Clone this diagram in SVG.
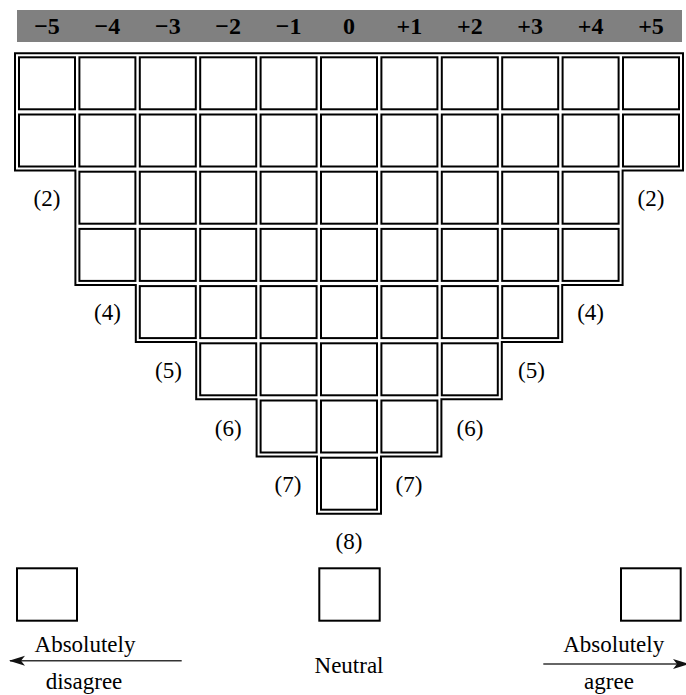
<svg xmlns="http://www.w3.org/2000/svg" width="686" height="695" viewBox="0 0 686 695">
<style>
.cell{fill:#fff;stroke:#000;stroke-width:2}
.frame{fill:none;stroke:#000;stroke-width:2}
.hd{font-family:'Liberation Serif','Times New Roman','DejaVu Serif',serif;font-weight:bold;font-size:24px;fill:#000;text-anchor:middle}
.lb{font-family:'Liberation Serif','Times New Roman','DejaVu Serif',serif;font-size:23px;fill:#000;text-anchor:middle}
.box{fill:#fff;stroke:#000;stroke-width:2}
.arr{fill:none;stroke:#333;stroke-width:1.5}
</style>
<defs>
<marker id="ah" viewBox="0 0 16 12" refX="15" refY="6" markerWidth="16" markerHeight="12" markerUnits="userSpaceOnUse" orient="auto-start-reverse">
<path d="M0,1 L16,6 L0,11 L4,6 Z" fill="#111"/>
</marker>
</defs>
<rect x="0" y="0" width="686" height="695" fill="#fff"/>
<g id="header" font-family="Liberation Serif, serif">
<rect x="17" y="10" width="665" height="32" fill="#808080"/>
<text class="hd" x="47" y="34">−5</text>
<text class="hd" x="107.4" y="34">−4</text>
<text class="hd" x="167.8" y="34">−3</text>
<text class="hd" x="228.2" y="34">−2</text>
<text class="hd" x="288.6" y="34">−1</text>
<text class="hd" x="349" y="34">0</text>
<text class="hd" x="409.4" y="34">+1</text>
<text class="hd" x="469.8" y="34">+2</text>
<text class="hd" x="530.2" y="34">+3</text>
<text class="hd" x="590.6" y="34">+4</text>
<text class="hd" x="651" y="34">+5</text>
</g>
<g id="frame"><path class="frame" d="M15,53.3 H683 V170.5 H622.6 V284.9 H562.2 V342.1 H501.8 V399.3 H441.4 V456.5 H381 V513.7 H317 V456.5 H256.6 V399.3 H196.2 V342.1 H135.8 V284.9 H75.4 V170.5 H15 Z"/></g>
<g id="grid">
<g id="r0c0"><rect class="cell" x="19" y="57.3" width="56" height="52"/></g>
<g id="r0c1"><rect class="cell" x="79.4" y="57.3" width="56" height="52"/></g>
<g id="r0c2"><rect class="cell" x="139.8" y="57.3" width="56" height="52"/></g>
<g id="r0c3"><rect class="cell" x="200.2" y="57.3" width="56" height="52"/></g>
<g id="r0c4"><rect class="cell" x="260.6" y="57.3" width="56" height="52"/></g>
<g id="r0c5"><rect class="cell" x="321" y="57.3" width="56" height="52"/></g>
<g id="r0c6"><rect class="cell" x="381.4" y="57.3" width="56" height="52"/></g>
<g id="r0c7"><rect class="cell" x="441.8" y="57.3" width="56" height="52"/></g>
<g id="r0c8"><rect class="cell" x="502.2" y="57.3" width="56" height="52"/></g>
<g id="r0c9"><rect class="cell" x="562.6" y="57.3" width="56" height="52"/></g>
<g id="r0c10"><rect class="cell" x="623" y="57.3" width="56" height="52"/></g>
<g id="r1c0"><rect class="cell" x="19" y="114.5" width="56" height="52"/></g>
<g id="r1c1"><rect class="cell" x="79.4" y="114.5" width="56" height="52"/></g>
<g id="r1c2"><rect class="cell" x="139.8" y="114.5" width="56" height="52"/></g>
<g id="r1c3"><rect class="cell" x="200.2" y="114.5" width="56" height="52"/></g>
<g id="r1c4"><rect class="cell" x="260.6" y="114.5" width="56" height="52"/></g>
<g id="r1c5"><rect class="cell" x="321" y="114.5" width="56" height="52"/></g>
<g id="r1c6"><rect class="cell" x="381.4" y="114.5" width="56" height="52"/></g>
<g id="r1c7"><rect class="cell" x="441.8" y="114.5" width="56" height="52"/></g>
<g id="r1c8"><rect class="cell" x="502.2" y="114.5" width="56" height="52"/></g>
<g id="r1c9"><rect class="cell" x="562.6" y="114.5" width="56" height="52"/></g>
<g id="r1c10"><rect class="cell" x="623" y="114.5" width="56" height="52"/></g>
<g id="r2c1"><rect class="cell" x="79.4" y="171.7" width="56" height="52"/></g>
<g id="r2c2"><rect class="cell" x="139.8" y="171.7" width="56" height="52"/></g>
<g id="r2c3"><rect class="cell" x="200.2" y="171.7" width="56" height="52"/></g>
<g id="r2c4"><rect class="cell" x="260.6" y="171.7" width="56" height="52"/></g>
<g id="r2c5"><rect class="cell" x="321" y="171.7" width="56" height="52"/></g>
<g id="r2c6"><rect class="cell" x="381.4" y="171.7" width="56" height="52"/></g>
<g id="r2c7"><rect class="cell" x="441.8" y="171.7" width="56" height="52"/></g>
<g id="r2c8"><rect class="cell" x="502.2" y="171.7" width="56" height="52"/></g>
<g id="r2c9"><rect class="cell" x="562.6" y="171.7" width="56" height="52"/></g>
<g id="r3c1"><rect class="cell" x="79.4" y="228.9" width="56" height="52"/></g>
<g id="r3c2"><rect class="cell" x="139.8" y="228.9" width="56" height="52"/></g>
<g id="r3c3"><rect class="cell" x="200.2" y="228.9" width="56" height="52"/></g>
<g id="r3c4"><rect class="cell" x="260.6" y="228.9" width="56" height="52"/></g>
<g id="r3c5"><rect class="cell" x="321" y="228.9" width="56" height="52"/></g>
<g id="r3c6"><rect class="cell" x="381.4" y="228.9" width="56" height="52"/></g>
<g id="r3c7"><rect class="cell" x="441.8" y="228.9" width="56" height="52"/></g>
<g id="r3c8"><rect class="cell" x="502.2" y="228.9" width="56" height="52"/></g>
<g id="r3c9"><rect class="cell" x="562.6" y="228.9" width="56" height="52"/></g>
<g id="r4c2"><rect class="cell" x="139.8" y="286.1" width="56" height="52"/></g>
<g id="r4c3"><rect class="cell" x="200.2" y="286.1" width="56" height="52"/></g>
<g id="r4c4"><rect class="cell" x="260.6" y="286.1" width="56" height="52"/></g>
<g id="r4c5"><rect class="cell" x="321" y="286.1" width="56" height="52"/></g>
<g id="r4c6"><rect class="cell" x="381.4" y="286.1" width="56" height="52"/></g>
<g id="r4c7"><rect class="cell" x="441.8" y="286.1" width="56" height="52"/></g>
<g id="r4c8"><rect class="cell" x="502.2" y="286.1" width="56" height="52"/></g>
<g id="r5c3"><rect class="cell" x="200.2" y="343.3" width="56" height="52"/></g>
<g id="r5c4"><rect class="cell" x="260.6" y="343.3" width="56" height="52"/></g>
<g id="r5c5"><rect class="cell" x="321" y="343.3" width="56" height="52"/></g>
<g id="r5c6"><rect class="cell" x="381.4" y="343.3" width="56" height="52"/></g>
<g id="r5c7"><rect class="cell" x="441.8" y="343.3" width="56" height="52"/></g>
<g id="r6c4"><rect class="cell" x="260.6" y="400.5" width="56" height="52"/></g>
<g id="r6c5"><rect class="cell" x="321" y="400.5" width="56" height="52"/></g>
<g id="r6c6"><rect class="cell" x="381.4" y="400.5" width="56" height="52"/></g>
<g id="r7c5"><rect class="cell" x="321" y="457.7" width="56" height="52"/></g>
</g>
<g id="counts">
<text class="lb" x="47" y="206">(2)</text>
<text class="lb" x="651" y="206">(2)</text>
<text class="lb" x="107.4" y="320">(4)</text>
<text class="lb" x="590.6" y="320">(4)</text>
<text class="lb" x="168.5" y="377.5">(5)</text>
<text class="lb" x="531.5" y="377.5">(5)</text>
<text class="lb" x="228.2" y="435.5">(6)</text>
<text class="lb" x="470" y="435.5">(6)</text>
<text class="lb" x="288" y="492">(7)</text>
<text class="lb" x="409" y="492">(7)</text>
<text class="lb" x="349" y="549">(8)</text>
</g>
<g id="disagree-box"><rect class="box" x="17" y="568.3" width="60" height="52.4"/></g>
<g id="neutral-box"><rect class="box" x="319.3" y="568.3" width="60.4" height="52.4"/></g>
<g id="agree-box"><rect class="box" x="621" y="568.3" width="59.7" height="52.4"/></g>
<g id="connectors">
<line class="arr" x1="181.7" y1="660.7" x2="10" y2="660.7" marker-end="url(#ah)"/>
<line class="arr" x1="543.3" y1="664" x2="688" y2="664" marker-end="url(#ah)"/>
</g>
<g id="scale-labels">
<text class="lb" x="85" y="651.5">Absolutely</text>
<text class="lb" x="84" y="689">disagree</text>
<text class="lb" x="349" y="673">Neutral</text>
<text class="lb" x="613.7" y="651.5">Absolutely</text>
<text class="lb" x="609" y="689">agree</text>
</g>
</svg>
